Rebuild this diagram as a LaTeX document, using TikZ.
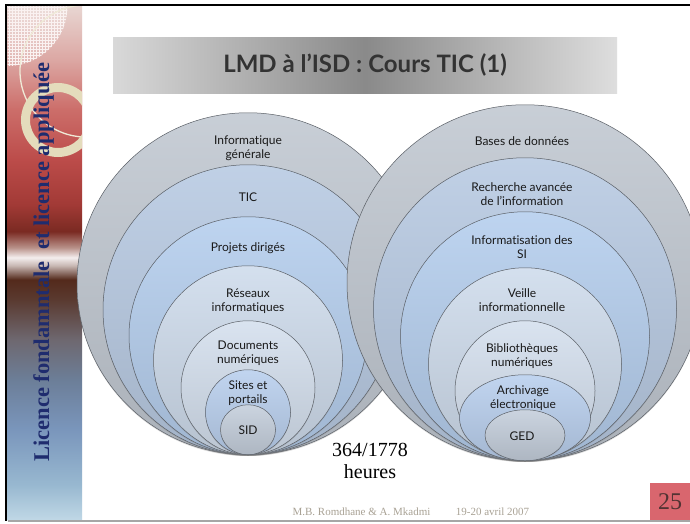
\documentclass[tikz,border=0pt]{standalone}
\usepackage{fontspec}
\setmainfont{Liberation Serif}
\newfontfamily\gillfont[Ligatures={NoCommon,NoRequired,NoContextual}]{Lato}
\usetikzlibrary{shapes.geometric,shadows,patterns}

% side bar colours, bottom to top
\definecolor{sbA}{HTML}{C0D8E6}
\definecolor{sbB}{HTML}{98B8D0}
\definecolor{sbC}{HTML}{7A96BC}
\definecolor{sbD}{HTML}{6C7E98}
\definecolor{sbE}{HTML}{6E6870}
\definecolor{sbF}{HTML}{5A3A30}
\definecolor{sbG}{HTML}{542A1C}
\definecolor{sbH}{HTML}{C8B8B4}
\definecolor{sbI}{HTML}{F4EEEE}
\definecolor{sbJ}{HTML}{B89088}
\definecolor{sbK}{HTML}{7A2A22}
\definecolor{sbL}{HTML}{A23A36}
\definecolor{sbM}{HTML}{BC4C4A}
\definecolor{sbN}{HTML}{CC6E6A}
\definecolor{sbO}{HTML}{DCA8A4}
\definecolor{sbP}{HTML}{E8D6D2}
\pgfdeclareverticalshading{sidebar}{100bp}{color(0bp)=(sbA); color(25bp)=(sbA);
  color(28.41bp)=(sbB); color(33.77bp)=(sbC); color(38.65bp)=(sbD);
  color(42.54bp)=(sbE); color(46.44bp)=(sbF); color(48.39bp)=(sbG);
  color(49.76bp)=(sbH); color(50.54bp)=(sbI); color(51.51bp)=(sbJ);
  color(53.07bp)=(sbK); color(55.70bp)=(sbL); color(60.09bp)=(sbM);
  color(64.96bp)=(sbN); color(69.84bp)=(sbO); color(75bp)=(sbP); color(100bp)=(sbP)}

\definecolor{ringA}{HTML}{C2C9D2}
\definecolor{ringB}{HTML}{B9CBE3}
\definecolor{ringC}{HTML}{B6CFEE}
\definecolor{ringD}{HTML}{CFDCEC}
\definecolor{ringE}{HTML}{D5E0EE}
\definecolor{ringF}{HTML}{BAD0EE}
\definecolor{ringG}{HTML}{C5CFDC}
\definecolor{ringline}{HTML}{5A5F66}
\definecolor{cream}{HTML}{E4DCBC}
\definecolor{sidetext}{HTML}{1F2C6E}
\definecolor{footgray}{HTML}{A9A295}
\definecolor{pagered}{HTML}{D9666E}

\tikzset{
  ring/.style={draw=ringline, line width=0.5pt, inner sep=0pt, anchor=south,
    top color=#1!90!white, bottom color=#1!88!black,
    drop shadow={opacity=0.3, shadow xshift=0pt, shadow yshift=-1.2pt}},
  lbl/.style={align=center, inner sep=0pt, text=black!90,
    font=\gillfont\fontsize{12}{13.5}\selectfont}
}

\begin{document}
\begin{tikzpicture}[x=1pt, y=-1pt]
\useasboundingbox (0,0) rectangle (690,523);
\fill[white] (0,0) rectangle (690,523);

% side bar
\shade[shading=sidebar] (7.5,6) rectangle (82,520);
\begin{scope}
  \clip (7.5,6) rectangle (82,520);
  \begin{scope}
    \clip (7.5,6) circle [radius=60pt];
    \fill[white, opacity=0.2] (7.5,6) rectangle (82,80);
    \fill[pattern=grid, pattern color=white!85!sbO] (7.5,6) rectangle (82,80);
  \end{scope}
  \draw[cream!60!white, line width=1.3pt] (86,71) circle [radius=66pt];
  \fill[cream, even odd rule] (58,120) circle [radius=37pt] (58,120) circle [radius=28pt];
\end{scope}
\node (side) [rotate=90, text=sidetext, font=\bfseries\fontsize{22.5}{22.5}\selectfont]
  at (43.5,262) {Licence fondamntale \ et licence appliquée};

% frame
\draw[line width=2.5pt] (6,5) -- (690,5);
\draw[line width=2.5pt] (6,4) -- (6,521);
\draw[gray!70, line width=1.5pt] (8,521) -- (690,521);

% title
\node (title) [minimum width=504pt, minimum height=56pt, left color=black!15,
  right color=black!13, middle color=black!46, text=black!80,
  font=\gillfont\bfseries\fontsize{24}{24}\selectfont] at (365,65)
  {LMD à l’ISD : Cours TIC (1)};

% left set
\coordinate (ltan) at (248,455);
\node (l1) [ring=ringA, circle, minimum size=342pt] at (ltan) {};
\node (tInfo) [lbl] at (248,148) {Informatique\\générale};
\node (l2) [ring=ringB, circle, minimum size=290pt] at (ltan) {};
\node (tTic) [lbl] at (248,197) {TIC};
\node (l3) [ring=ringC, circle, minimum size=238pt] at (ltan) {};
\node (tProj) [lbl] at (248,248) {Projets dirigés};
\node (l4) [ring=ringD, circle, minimum size=189pt] at (ltan) {};
\node (tRes) [lbl] at (248,301) {Réseaux\\informatiques};
\node (l5) [ring=ringE, circle, minimum size=134pt] at (ltan) {};
\node (tDoc) [lbl] at (248,353) {Documents\\numériques};
\node (l6) [ring=ringF, circle, minimum size=85pt] at (ltan) {};
\node (tSites) [lbl] at (248,393) {Sites et\\portails};
\node (l7) [ring=ringG, ellipse, minimum width=55pt, minimum height=50pt] at (ltan) {};
\node (tSid) [lbl] at (248,430) {SID};

% right set
\coordinate (rtan) at (525,461);
\node (r1) [ring=ringA, circle, minimum size=356pt] at (rtan) {};
\node (tBases) [lbl] at (522,141) {Bases de données};
\node (r2) [ring=ringB, circle, minimum size=303pt] at (rtan) {};
\node (tRech) [lbl] at (522,194) {Recherche avancée\\de l’information};
\node (r3) [ring=ringC, circle, minimum size=249pt] at (rtan) {};
\node (tInfsi) [lbl] at (522,247) {Informatisation des\\SI};
\node (r4) [ring=ringD, circle, minimum size=193pt] at (rtan) {};
\node (tVeille) [lbl] at (522,300) {Veille\\informationnelle};
\node (r5) [ring=ringE, circle, minimum size=140pt] at (rtan) {};
\node (tBib) [lbl] at (522,356) {Bibliothèques\\numériques};
\node (r6) [ring=ringF, ellipse, minimum width=131pt, minimum height=86pt] at (rtan) {};
\node (tArch) [lbl] at (523,398) {Archivage\\électronique};
\node (r7) [ring=ringG, ellipse, minimum width=80pt, minimum height=51pt] at (rtan) {};
\node (tGed) [lbl] at (522,436) {GED};

% hours
\node (hours) [align=center, font=\fontsize{20}{21.5}\selectfont] at (370,461) {364/1778\\heures};

% footer
\node (author) [text=footgray, font=\fontsize{11}{11}\selectfont] at (361.5,512) {M.B. Romdhane \& A. Mkadmi};
\node (date) [text=footgray, font=\fontsize{11}{11}\selectfont] at (492.5,512) {19-20 avril 2007};
\node (page) [fill=pagered, minimum width=40pt, minimum height=37pt, inner sep=0pt,
  text=black!80!red!60!gray, font=\fontsize{24}{24}\selectfont] at (670,501.5) {25};
\end{tikzpicture}
\end{document}
